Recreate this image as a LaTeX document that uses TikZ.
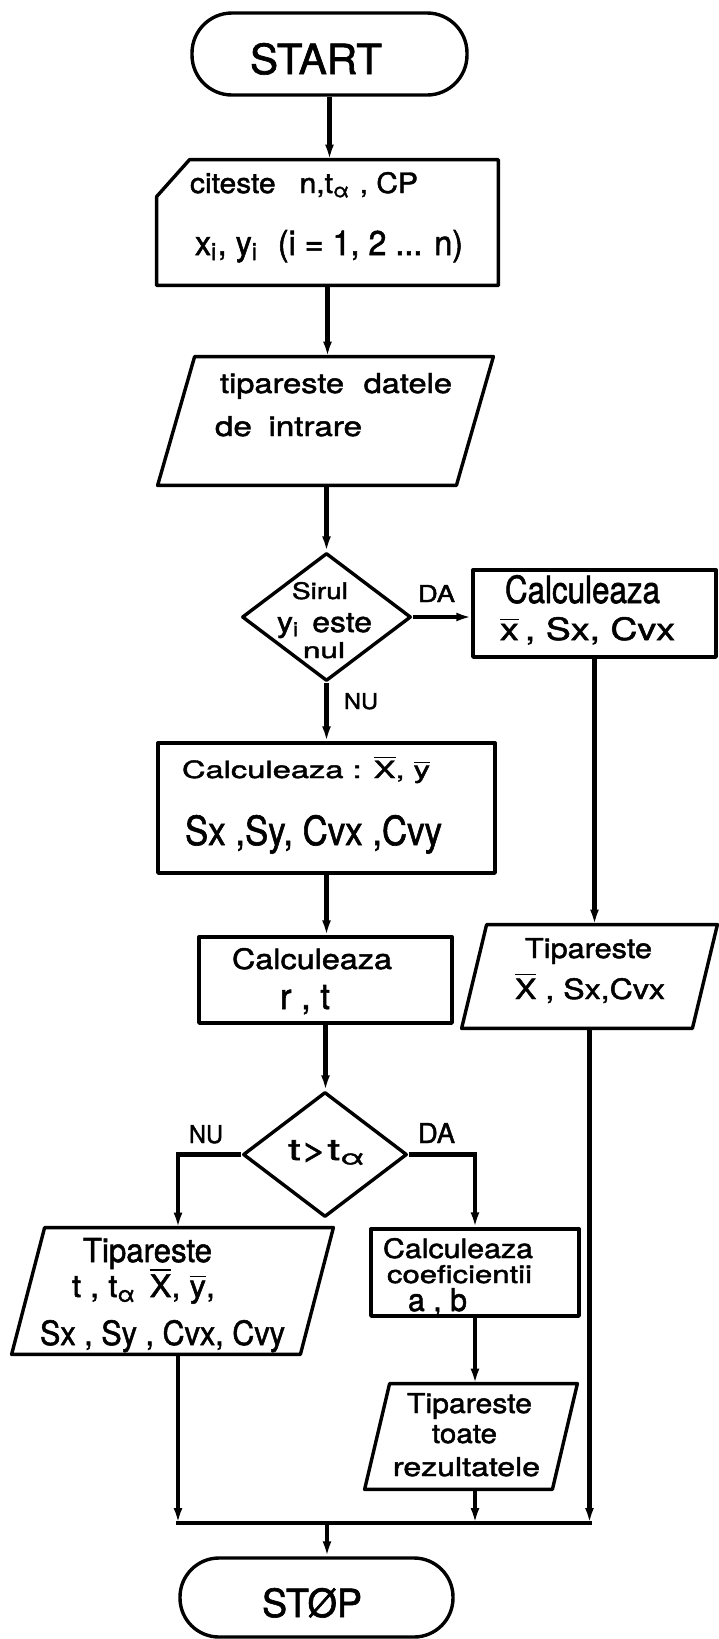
\documentclass[tikz,border=0pt]{standalone}
\usepackage{fontspec}
\setmainfont{TeX Gyre Heros}
\newfontfamily\letterfont{TeX Gyre Heros}[FakeBold=1.6]
\usepackage{graphicx}
\usetikzlibrary{shapes.geometric,arrows.meta,calc}
\newlength\pxu
\setlength\pxu{0.5pt}
\newcommand{\ob}[1]{$\overline{\hbox{#1}}$}
\newcommand{\tx}[3]{\resizebox{#1\pxu}{#2\pxu}{\letterfont #3}}
\newcommand{\sub}[1]{\textsubscript{#1}}
\newcommand{\paral}[2]{\draw[shapeline] ($(#1.north west)+(#2,0)$) -- (#1.north east) -- ($(#1.south east)+(-#2,0)$) -- (#1.south west) -- cycle;}
\tikzset{
  shapeline/.style={line width=1.7pt, line join=round},
  conn/.style={line width=2.2pt},
  arr/.style={conn, -{Latex[length=7.5pt,width=4.5pt]}},
  term/.style={draw, shapeline, rectangle, inner sep=0pt},
  holder/.style={rectangle, inner sep=0pt, draw=none},
  rect/.style={draw, shapeline, rectangle, inner sep=0pt},
  dia/.style={draw, shapeline, diamond, inner sep=0pt},
  lbl/.style={inner sep=0pt, anchor=base}
}
\begin{document}
\begin{tikzpicture}[x=0.5pt,y=-0.5pt]
\fill[white] (0,0) rectangle (718,1639);
\useasboundingbox (0,0) rectangle (718,1639);

% ---------- shapes ----------
\node[term, rounded corners=20pt, minimum width=137.5pt, minimum height=41pt] (start) at (329.5,54) {};
\node[holder, minimum width=170.5pt, minimum height=62.5pt] (input) at (327.5,222.5) {};
\draw[shapeline] (input.south west) -- (input.south east) -- (input.north east) -- ($(input.north west)+(33,0)$) -- ($(input.north west)+(0,37)$) -- cycle;
\node[holder, minimum width=167.5pt, minimum height=64pt] (par1) at (325.5,421) {};
\paral{par1}{37}
\node[dia, minimum width=84.5pt, minimum height=64pt] (dec1) at (326.5,617) {};
\node[rect, minimum width=121.5pt, minimum height=43.5pt] (calc1) at (594.5,613.5) {};
\node[rect, minimum width=168.5pt, minimum height=65pt] (calcxy) at (326.5,808) {};
\node[rect, minimum width=126.5pt, minimum height=43pt] (calcrt) at (325.5,980) {};
\node[holder, minimum width=127.5pt, minimum height=51.5pt] (par2) at (589.5,976.5) {};
\paral{par2}{25}
\node[dia, minimum width=82pt, minimum height=62.5pt] (dec2) at (325,1154.5) {};
\node[holder, minimum width=160.5pt, minimum height=63pt] (par3) at (172.5,1291) {};
\paral{par3}{33}
\node[rect, minimum width=104pt, minimum height=43.5pt] (calcab) at (475,1272.5) {};
\node[holder, minimum width=106pt, minimum height=52.5pt] (par4) at (471,1436.5) {};
\paral{par4}{25}
\node[term, rounded corners=19.5pt, minimum width=136.5pt, minimum height=39.5pt] (stop) at (316.5,1597.5) {};

% ---------- texts ----------
\node[lbl] (tStart) at (316,74) {\tx{132}{31}{START}};
\node[lbl] (tIn1) at (304,193) {\tx{228}{21}{citeste\hspace{0.8em}n,t\sub{α}\hspace{0.3em}, CP}};
\node[lbl] (tIn2) at (329,255) {\tx{268}{25}{x\sub{i}, y\sub{i}\hspace{0.6em}(i = 1, 2 ... n)}};
\node[lbl] (tP1a) at (336,393) {\tx{232}{20}{tipareste\hspace{0.6em}datele}};
\node[lbl] (tP1b) at (288.5,436) {\tx{147}{20}{de\hspace{0.5em}intrare}};
\node[lbl] (tD1a) at (320,599) {\tx{56}{17}{Sirul}};
\node[lbl] (tD1b) at (324.5,632) {\tx{95}{19}{y\sub{i}\hspace{0.4em}este}};
\node[lbl] (tD1c) at (324,658) {\tx{42}{16}{nul}};
\node[lbl] (tDA1) at (436.5,602) {\tx{37}{17}{DA}};
\node[lbl] (tNU1) at (361,709) {\tx{34}{16}{NU}};
\node[lbl] (tC1a) at (582.5,603) {\tx{155}{28}{Calculeaza}};
\node[lbl] (tC1b) at (587.5,640) {\tx{175}{23}{\ob{x}\,, Sx, Cvx}};
\node[lbl] (tCxa) at (306,778) {\tx{248}{22}{Calculeaza : \ob{X}, \ob{y}}};
\node[lbl] (tCxb) at (313.5,845) {\tx{257}{30}{Sx ,Sy, Cvx ,Cvy}};
\node[lbl] (tCra) at (312,969) {\tx{160}{21}{Calculeaza}};
\node[lbl] (tCrb) at (305,1009) {\tx{50}{24}{r , t}};
\node[lbl] (tP2a) at (588.5,958) {\tx{127}{20}{Tipareste}};
\node[lbl] (tP2b) at (590,999) {\tx{150}{26}{\ob{X} , Sx,Cvx}};
\node[lbl] (tD2) at (327.5,1160) {\tx{79}{20}{t>t\sub{α}}};
\node[lbl] (tNU2) at (206,1143) {\tx{34}{18}{NU}};
\node[lbl] (tDA2) at (436.5,1143) {\tx{37}{20}{DA}};
\node[lbl] (tP3a) at (147.5,1262) {\tx{129}{24}{Tipareste}};
\node[lbl] (tP3b) at (143.5,1297) {\tx{143}{29}{t , t\sub{α}\hspace{0.4em}\ob{X}, \ob{y},}};
\node[lbl] (tP3c) at (162.5,1345) {\tx{245}{25}{Sx , Sy , Cvx, Cvy}};
\node[lbl] (tCba) at (458,1258) {\tx{150}{20}{Calculeaza}};
\node[lbl] (tCbb) at (459.5,1283) {\tx{145}{18}{coeficientii}};
\node[lbl] (tCbc) at (437.5,1311) {\tx{59}{23}{a , b}};
\node[lbl] (tP4a) at (469.5,1413) {\tx{125}{20}{Tipareste}};
\node[lbl] (tP4b) at (464.5,1443) {\tx{65}{18}{toate}};
\node[lbl] (tP4c) at (466.5,1476) {\tx{147}{19}{rezultatele}};
\node[lbl] (tStop) at (312,1617) {\tx{100}{29}{STØP}};

% ---------- connectors ----------
\draw[arr] (start.south) -- (start.south |- input.north);
\draw[arr] (input.south) -- (input.south |- par1.north);
\draw[arr] (dec1.north |- par1.south) -- (dec1.north);
\draw[arr] (dec1.east) -- (dec1.east -| calc1.west);
\draw[arr] (dec1.south) -- (dec1.south |- calcxy.north);
\draw[arr] (calcxy.south) -- (calcxy.south |- calcrt.north);
\draw[arr] (calcrt.south) -- (calcrt.south |- dec2.north);
\draw[arr] (calc1.south) -- (calc1.south |- par2.north);
\path (par3.north) ++(5.5,0) coordinate (p3n);
\path (par3.south) ++(5.5,0) coordinate (p3s);
\draw[arr] (dec2.west) -| (p3n);
\draw[arr] (dec2.east) -| (calcab.north);
\draw[arr] (calcab.south) -- (calcab.south |- par4.north);
\coordinate (merge) at (327,1523);
\coordinate (mL) at (p3s |- merge);
\coordinate (mM) at (calcab.south |- merge);
\coordinate (mR) at (par2.south |- merge);
\draw[arr] (p3s) -- (mL);
\draw[arr] (calcab.south |- par4.south) -- (mM);
\draw[arr] (par2.south) -- (mR);
\draw[conn, line cap=rect] (mL) -- (mR);
\draw[arr] (merge) -- (merge |- stop.north);
\end{tikzpicture}
\end{document}
